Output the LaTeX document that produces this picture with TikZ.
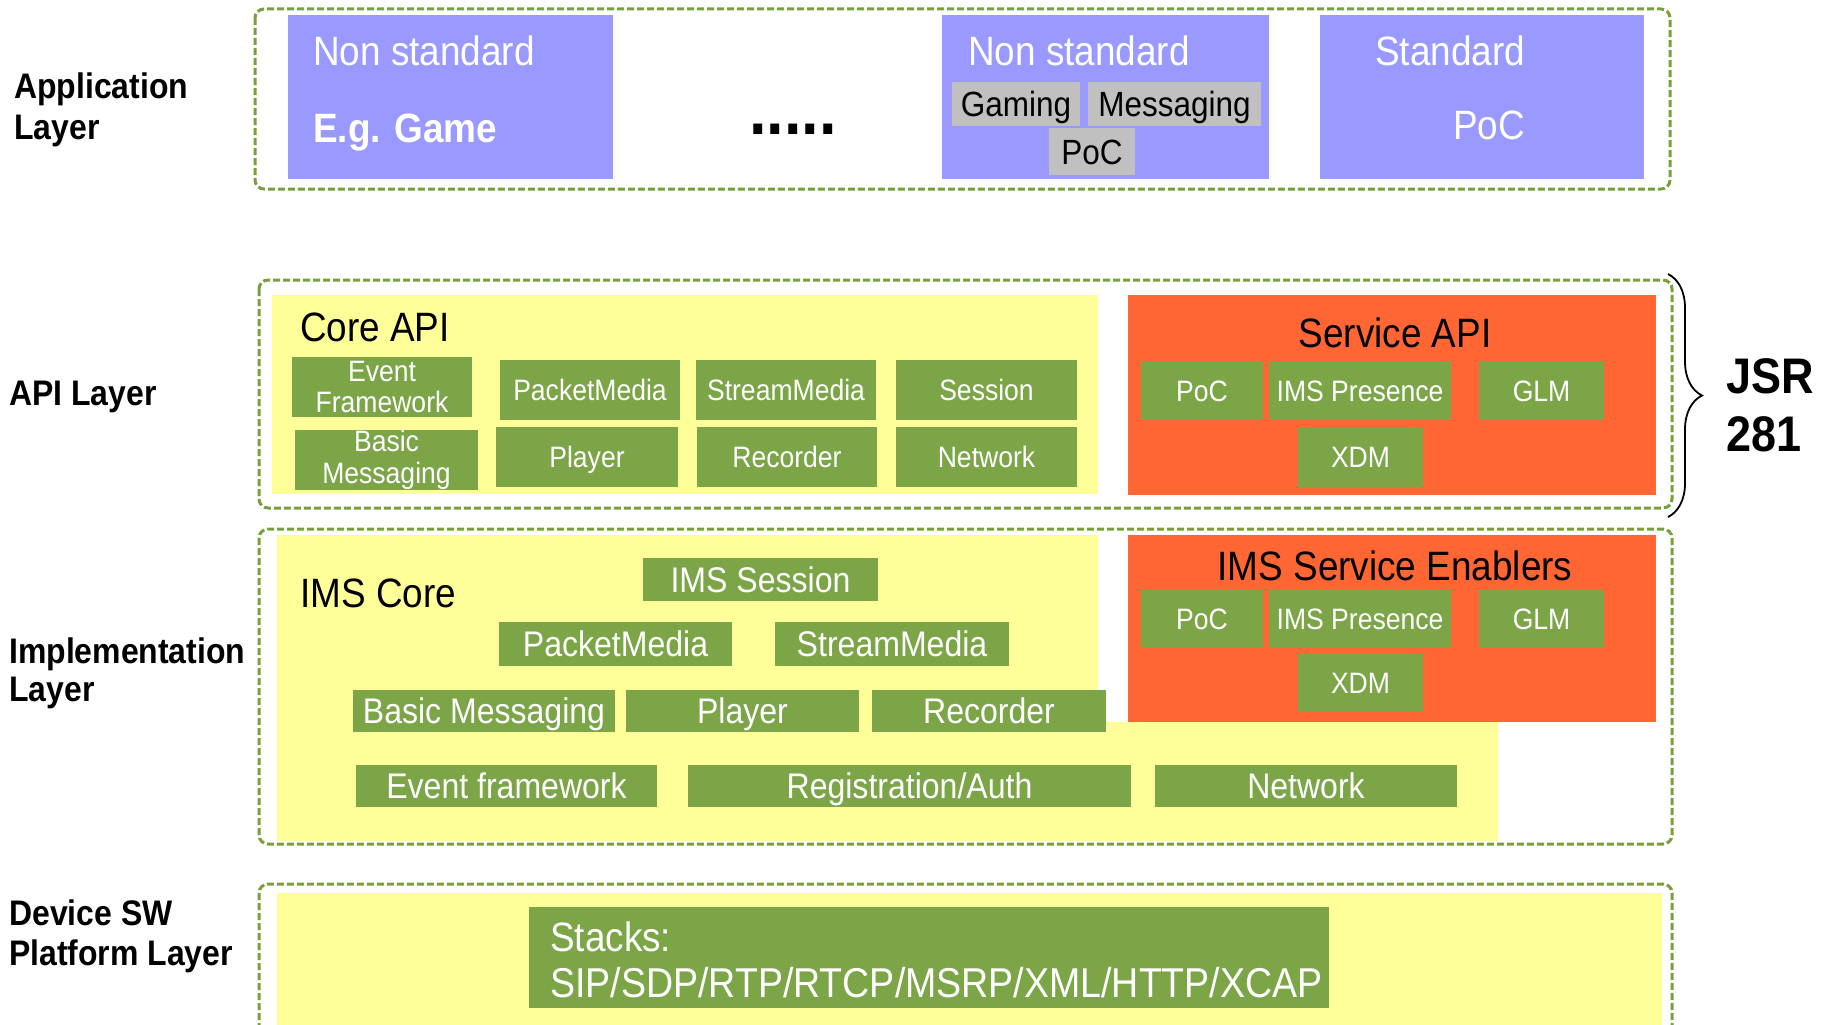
\documentclass[tikz,border=0pt]{standalone}
\usepackage{fontspec}
\setmainfont[FakeStretch=0.9]{Liberation Sans}
\usetikzlibrary{decorations.pathreplacing}
\definecolor{appblue}{RGB}{153,153,255}
\definecolor{appgray}{RGB}{192,192,192}
\definecolor{ylw}{RGB}{255,255,153}
\definecolor{grn}{RGB}{124,165,72}
\definecolor{org}{RGB}{255,102,51}
\definecolor{dgrn}{RGB}{119,160,60}
\newcommand\fsz[2]{\fontsize{#1}{#2}\selectfont}
% #1 box style, #2 text style, #3 name, #4 x1, #5 y1, #6 x2, #7 y2, #8 text
\newcommand\mybox[8]{%
  \node[#1,anchor=north west,minimum width={#6pt-#4pt},minimum height={#7pt-#5pt}] (#3) at (#4,#5) {};
  \node[#2] (#3t) at (#3.center) {#8};}
\begin{document}
\begin{tikzpicture}[x=1pt,y=-1pt,
  dashbox/.style={draw=dgrn,line width=3pt,dash pattern=on 7pt off 3pt,rounded corners=9pt},
  rbox/.style={rectangle,inner sep=0pt,outer sep=0pt,draw=none},
  gbox/.style={rbox,fill=grn},
  pbox/.style={rbox,fill=appblue},
  graybox/.style={rbox,fill=appgray},
  ybox/.style={rbox,fill=ylw},
  obox/.style={rbox,fill=org},
  gtxt/.style={inner sep=0pt,text=white,text height=21.2pt,text depth=0pt,font=\fsz{29.5}{31.5}},
  gtxtii/.style={inner sep=0pt,text=white,align=center,font=\fsz{29.5}{31.5}},
  gtxtL/.style={inner sep=0pt,text=white,text height=25.6pt,text depth=0pt,font=\fsz{35.6}{40}},
  graytxt/.style={inner sep=0pt,text=black,text height=25.2pt,text depth=0pt,font=\fsz{35}{40}},
  wtxt/.style={inner sep=0pt,text=white,text height=29.5pt,text depth=0pt,font=\fsz{41}{46}},
  btxt/.style={inner sep=0pt,text=black,text height=29.5pt,text depth=0pt,font=\fsz{41}{46}},
  laytxt/.style={inner sep=0pt,anchor=west,align=left,text=black,font=\fsz{35.5}{40}\bfseries},
]
\useasboundingbox (0,0) rectangle (1831,1025);

% ---------------- Application layer ----------------
\draw[dashbox] (255,9) rectangle (1670,189);
\node[laytxt] (applab) at (14,110) {Application\\[1pt]Layer};
\node[pbox,anchor=north west,minimum width=325pt,minimum height=164pt] (app1) at (288,15) {};
\node[wtxt,anchor=west] (app1a) at (313,51) {Non standard};
\node[wtxt,anchor=west,font=\fsz{41}{46}\bfseries] (app1b) at (313,128) {E.g. Game};
\node[inner sep=0pt,anchor=base,font=\fsz{70}{72}\bfseries] (dots) at (793,134) {.....};
\node[pbox,anchor=north west,minimum width=327pt,minimum height=164pt] (app2) at (942,15) {};
\node[wtxt,anchor=west] (app2a) at (968,51) {Non standard};
\mybox{graybox}{graytxt}{gam}{952}{82}{1080}{126}{Gaming}
\mybox{graybox}{graytxt}{msg}{1088}{82}{1261}{126}{Messaging}
\mybox{graybox}{graytxt}{apoc}{1049}{128}{1135}{175}{PoC}
\node[pbox,anchor=north west,minimum width=324pt,minimum height=164pt] (app3) at (1320,15) {};
\node[wtxt] (app3a) at (1450,51) {Standard};
\node[wtxt] (app3b) at (1489,125) {PoC};

% ---------------- API layer ----------------
\draw[dashbox] (259,280) rectangle (1672,508);
\node[laytxt] (apilab) at (9,397) {API Layer};
\node[ybox,anchor=north west,minimum width=826pt,minimum height=199pt] (coreapi) at (272,295) {};
\node[btxt,anchor=west] (coreapit) at (300,327) {Core API};
\mybox{gbox}{gtxtii}{aef}{292}{357}{472}{417}{Event\\Framework}
\mybox{gbox}{gtxt}{apm}{500}{360}{680}{420}{PacketMedia}
\mybox{gbox}{gtxt}{asm}{696}{360}{876}{420}{StreamMedia}
\mybox{gbox}{gtxt}{ases}{896}{360}{1077}{420}{Session}
\mybox{gbox}{gtxtii}{abm}{295}{430}{478}{490}{Basic\\Messaging}
\mybox{gbox}{gtxt}{apl}{496}{427}{678}{487}{Player}
\mybox{gbox}{gtxt}{arec}{697}{427}{877}{487}{Recorder}
\mybox{gbox}{gtxt}{anet}{896}{427}{1077}{487}{Network}
\node[obox,anchor=north west,minimum width=528pt,minimum height=200pt] (servapi) at (1128,295) {};
\node[btxt] (servapit) at (1395,333) {Service API};
\mybox{gbox}{gtxt}{spoc}{1141}{361}{1263}{420}{PoC}
\mybox{gbox}{gtxt}{spres}{1269}{361}{1451}{420}{IMS Presence}
\mybox{gbox}{gtxt}{sglm}{1479}{361}{1604}{420}{GLM}
\mybox{gbox}{gtxt}{sxdm}{1298}{427}{1423}{487}{XDM}
\coordinate (brtop) at (1668,274);
\coordinate (brbot) at (1668,517);
\draw[line width=1.8pt,decorate,decoration={brace,amplitude=34pt}] (brtop) -- (brbot);
\node[inner sep=0pt,anchor=west,align=left,font=\fsz{50}{58}\bfseries] (jsr) at (1726,405) {JSR\\281};

% ---------------- Implementation layer ----------------
\draw[dashbox] (259,529) rectangle (1672,844);
\node[laytxt] (implab) at (9,673) {Implementation\\[-2pt]Layer};
\fill[ylw] (277,535) -- (1098,535) -- (1098,722) -- (1498,722) -- (1498,841) -- (277,841) -- cycle;
\node[obox,anchor=north west,minimum width=528pt,minimum height=187pt] (ise) at (1128,535) {};
\node[btxt] (iset) at (1395,566) {IMS Service Enablers};
\mybox{gbox}{gtxt}{ipoc}{1141}{590}{1263}{648}{PoC}
\mybox{gbox}{gtxt}{ipres}{1269}{590}{1451}{648}{IMS Presence}
\mybox{gbox}{gtxt}{iglm}{1479}{590}{1604}{648}{GLM}
\mybox{gbox}{gtxt}{ixdm}{1298}{654}{1423}{712}{XDM}
\node[btxt,anchor=west] (imscore) at (300,593) {IMS Core};
\mybox{gbox}{gtxtL}{ises}{643}{558}{878}{601}{IMS Session}
\mybox{gbox}{gtxtL}{ipm}{499}{622}{732}{666}{PacketMedia}
\mybox{gbox}{gtxtL}{ism}{775}{622}{1009}{666}{StreamMedia}
\mybox{gbox}{gtxtL}{ibm}{353}{690}{615}{732}{Basic Messaging}
\mybox{gbox}{gtxtL}{ipl}{626}{690}{859}{732}{Player}
\mybox{gbox}{gtxtL}{irec}{872}{690}{1106}{732}{Recorder}
\mybox{gbox}{gtxtL}{ief}{356}{765}{657}{807}{Event framework}
\mybox{gbox}{gtxtL}{ireg}{688}{765}{1131}{807}{Registration/Auth}
\mybox{gbox}{gtxtL}{inet}{1155}{765}{1457}{807}{Network}

% ---------------- Device SW platform layer ----------------
\draw[dashbox] (259,1030) -- (259,884) -- (1672,884) -- (1672,1030);
\node[laytxt] (devlab) at (9,936) {Device SW\\[0pt]Platform Layer};
\fill[ylw] (277,893) rectangle (1662,1025);
\node[gbox,anchor=north west,minimum width=800pt,minimum height=101pt] (stacks) at (529,907) {};
\node[wtxt,anchor=west] (stacks1) at (550,937) {Stacks:};
\node[wtxt,anchor=west,font=\fsz{41.7}{46}] (stacks2) at (550,983) {SIP/SDP/RTP/RTCP/MSRP/XML/HTTP/XCAP};
\end{tikzpicture}
\end{document}
